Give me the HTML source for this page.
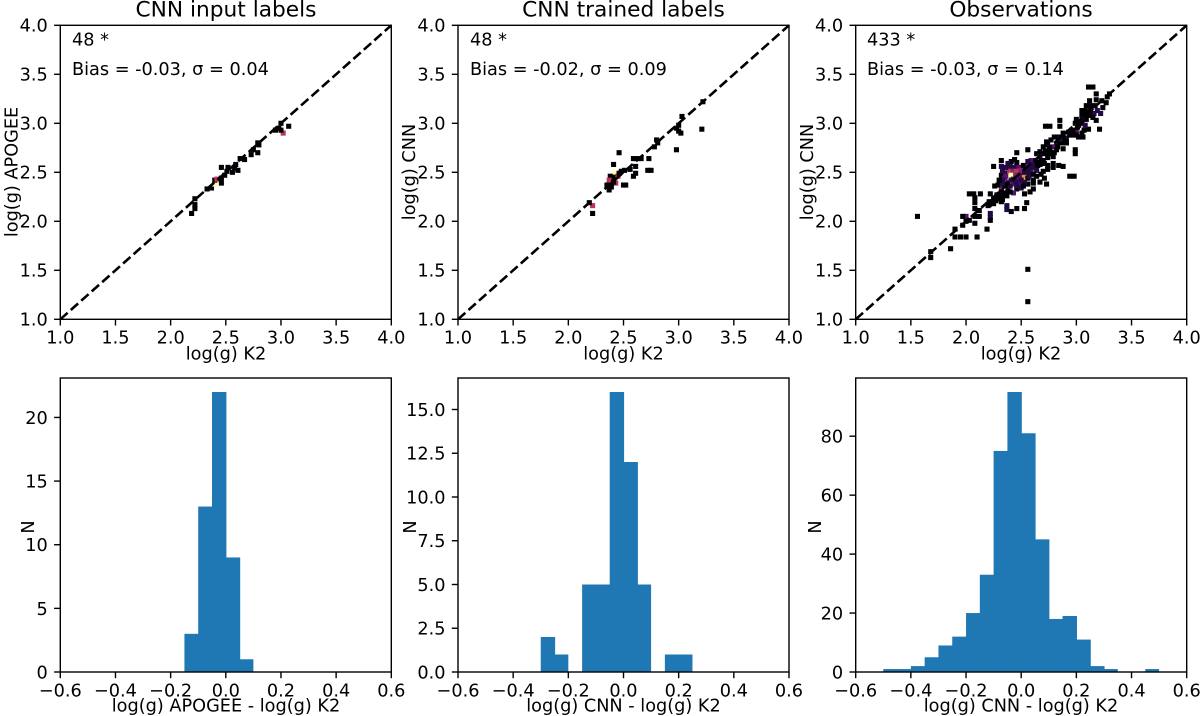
<!DOCTYPE html>
<html>
<head>
<meta charset="utf-8">
<title>log(g) comparison</title>
<style>
html,body{margin:0;padding:0;background:#fff;}
svg{display:block;}
text{font-family:"DejaVu Sans","Liberation Sans",sans-serif;font-size:17.7px;fill:#000;}
.title{font-size:21.7px;text-anchor:middle;}
.mid{text-anchor:middle;}
</style>
</head>
<body>
<svg id="chart" width="1200" height="716" viewBox="0 0 1200 716" xmlns="http://www.w3.org/2000/svg">
  <rect width="1200" height="716" fill="#fff"/>
  <g id="layer-marks"></g>
  <g id="layer-axes"></g>

  <text class="title" x="226" y="16.7">CNN input labels</text>
  <text class="title" x="623.5" y="16.7">CNN trained labels</text>
  <text class="title" x="1021" y="16.7">Observations</text>

  <text x="72" y="45.7">48 *</text>
  <text x="72" y="75">Bias = -0.03, σ = 0.04</text>
  <text x="470" y="45.7">48 *</text>
  <text x="470" y="75">Bias = -0.02, σ = 0.09</text>
  <text x="867" y="45.7">433 *</text>
  <text x="867" y="75">Bias = -0.03, σ = 0.14</text>

  <text class="mid" x="226" y="359.3">log(g) K2</text>
  <text class="mid" x="623.5" y="359.3">log(g) K2</text>
  <text class="mid" x="1021" y="359.3">log(g) K2</text>
  <text class="mid" x="226" y="711.7">log(g) APOGEE - log(g) K2</text>
  <text class="mid" x="623.5" y="711.7">log(g) CNN - log(g) K2</text>
  <text class="mid" x="1021" y="711.7">log(g) CNN - log(g) K2</text>

  <text class="mid" transform="translate(17.6 172) rotate(-90)">log(g) APOGEE</text>
  <text class="mid" transform="translate(415 172) rotate(-90)">log(g) CNN</text>
  <text class="mid" transform="translate(813 172) rotate(-90)">log(g) CNN</text>
  <text class="mid" transform="translate(34 527) rotate(-90)">N</text>
  <text class="mid" transform="translate(416 527) rotate(-90)">N</text>
  <text class="mid" transform="translate(821 527) rotate(-90)">N</text>
</svg>
<script>
// Tick values and labels
var scatterTicks = [1, 1.5, 2, 2.5, 3, 3.5, 4];
var scatterTickLabels = ["1.0", "1.5", "2.0", "2.5", "3.0", "3.5", "4.0"];
var histXTicks = [-0.6, -0.4, -0.2, 0, 0.2, 0.4, 0.6];
var histXTickLabels = ["\u22120.6", "\u22120.4", "\u22120.2", "0.0", "0.2", "0.4", "0.6"];
var histYTicksInput = [0, 5, 10, 15, 20];
var histYTickLabelsInput = ["0", "5", "10", "15", "20"];
var histYTicksTrained = [0, 2.5, 5, 7.5, 10, 12.5, 15];
var histYTickLabelsTrained = ["0.0", "2.5", "5.0", "7.5", "10.0", "12.5", "15.0"];
var histYTicksObs = [0, 20, 40, 60, 80];
var histYTickLabelsObs = ["0", "20", "40", "60", "80"];

// Histogram bins and counts
var histEdges = [-0.5, -0.45, -0.4, -0.35, -0.3, -0.25, -0.2, -0.15, -0.1, -0.05, 0, 0.05, 0.1, 0.15, 0.2, 0.25, 0.3, 0.35, 0.4, 0.45, 0.5];
var histInput = [0, 0, 0, 0, 0, 0, 0, 3, 13, 22, 9, 1, 0, 0, 0, 0, 0, 0, 0, 0];
var histTrained = [0, 0, 0, 0, 2, 1, 0, 5, 5, 16, 12, 5, 0, 1, 1, 0, 0, 0, 0, 0];
var histObs = [1, 1, 2, 5, 9, 12, 20, 33, 75, 95, 81, 45, 18, 19, 11, 2, 1, 0, 0, 1];

// 2D histogram cells: [log(g) K2, log(g) predicted, count]
var cellsInput = [
[2.19,2.08,1],[2.22,2.13,1],[2.22,2.17,1],[2.22,2.23,1],[2.33,2.33,1],[2.37,2.34,1],[2.40,2.38,3],[2.40,2.42,1],
[2.42,2.43,2],[2.46,2.39,1],[2.46,2.44,1],[2.49,2.47,1],[2.46,2.55,1],[2.52,2.55,1],[2.51,2.51,1],[2.56,2.50,1],
[2.58,2.54,1],[2.61,2.52,1],[2.59,2.58,1],[2.63,2.64,1],[2.67,2.63,1],[2.73,2.68,1],[2.75,2.73,1],[2.79,2.80,1],
[2.79,2.70,1],[2.80,2.78,1],[2.95,2.93,1],[2.98,2.95,1],[3.00,3.00,1],[3.02,2.90,2],[3.07,2.97,1],[3.00,2.93,1]
];
var cellsTrained = [
[2.22,2.08,1],[2.22,2.16,2],[2.19,2.19,1],[2.46,2.70,1],[2.41,2.58,1],[2.42,2.49,3],[2.38,2.46,1],[2.41,2.45,1],
[2.37,2.42,2],[2.43,2.39,2],[2.45,2.46,2],[2.41,2.40,1],[2.35,2.37,1],[2.39,2.35,1],[2.37,2.32,1],[2.50,2.37,1],
[2.52,2.37,1],[2.48,2.51,1],[2.51,2.52,1],[2.56,2.53,1],[2.46,2.49,1],[2.61,2.56,1],[2.61,2.49,1],[2.59,2.46,1],
[2.59,2.64,1],[2.62,2.64,1],[2.66,2.64,1],[2.73,2.64,1],[2.72,2.52,1],[2.75,2.52,1],[2.80,2.83,1],[2.81,2.80,1],
[2.78,2.76,1],[2.98,2.95,1],[3.03,3.07,1],[3.00,2.92,1],[2.98,2.73,1],[3.02,2.90,1],[3.21,2.94,1],[3.22,3.22,1],[3.00,2.98,1]
];
var cellsObs = [
[3.11,3.37,1],[3.15,3.37,1],[3.18,3.30,1],[3.30,3.30,1],[3.28,3.27,1],[3.18,3.24,1],[3.23,3.23,1],[3.12,3.23,1],
[3.27,3.21,1],[3.09,3.18,1],[3.13,3.18,1],[3.17,3.18,1],[3.24,3.16,1],[3.05,3.13,1],[3.08,3.13,1],[3.13,3.13,1],
[3.16,3.10,2],[3.19,3.13,2],[3.22,3.10,2],[3.05,3.08,1],[3.09,3.08,1],[3.12,3.08,1],[3.15,3.06,1],[3.00,3.04,1],
[3.18,3.03,1],[2.85,3.03,1],[3.05,3.04,2],[2.72,2.97,1],[2.76,2.97,1],[2.85,2.97,1],[2.99,3.00,1],[3.03,3.01,1],
[3.21,2.94,1],[3.11,2.94,1],[3.07,2.93,1],[3.00,2.93,3],[2.96,2.92,2],[2.93,2.91,1],[2.88,2.90,1],[3.05,2.90,1],
[3.00,2.88,1],[2.97,2.88,1],[3.06,2.86,1],[3.02,2.86,1],[2.80,2.86,1],[2.84,2.86,1],[2.91,2.85,2],[2.88,2.85,1],
[2.77,2.83,1],[2.73,2.81,1],[2.82,2.79,2],[2.85,2.81,1],[2.90,2.82,1],[2.70,2.76,1],[2.74,2.78,1],[2.79,2.76,3],
[2.76,2.73,1],[2.82,2.73,1],[2.99,2.73,1],[2.99,2.69,1],[2.56,2.73,1],[2.46,2.70,1],[2.67,2.71,1],[2.64,2.69,1],
[2.71,2.69,1],[2.79,2.66,1],[2.67,2.66,2],[2.74,2.65,1],[2.70,2.62,1],[2.59,2.62,3],[2.56,2.61,2],[2.63,2.62,2],
[2.44,2.63,1],[2.32,2.62,1],[2.41,2.61,1],[2.46,2.60,1],[2.38,2.59,2],[2.32,2.56,2],[2.25,2.56,1],[2.40,2.56,2],
[2.44,2.55,2],[2.48,2.55,3],[2.52,2.57,1],[2.56,2.56,3],[2.61,2.55,2],[2.65,2.57,1],[2.71,2.59,1],[2.74,2.57,1],
[2.79,2.59,1],[2.84,2.57,1],[2.88,2.56,1],[2.79,2.55,1],[2.74,2.53,1],[2.70,2.51,1],[2.64,2.52,2],[2.59,2.50,3],
[2.56,2.50,2],[2.52,2.52,2],[2.49,2.52,4],[2.45,2.51,5],[2.41,2.51,4],[2.38,2.51,5],[2.35,2.49,2],[2.32,2.47,1],
[2.41,2.47,9],[2.45,2.47,4],[2.49,2.47,3],[2.53,2.46,7],[2.39,2.44,9],[2.35,2.44,3],[2.43,2.43,3],[2.47,2.43,3],
[2.56,2.44,1],[2.61,2.42,1],[2.71,2.44,1],[2.67,2.40,1],[2.94,2.46,1],[2.98,2.46,1],[2.73,2.38,1],[2.56,2.38,1],
[2.61,2.39,1],[2.38,2.40,3],[2.43,2.38,4],[2.49,2.38,3],[2.32,2.34,4],[2.35,2.37,2],[2.29,2.37,1],[2.26,2.36,1],
[2.46,2.33,1],[2.38,2.33,1],[2.61,2.33,1],[2.58,2.30,1],[2.53,2.28,1],[2.43,2.29,3],[2.37,2.26,1],[2.32,2.30,1],
[2.28,2.27,1],[2.22,2.28,1],[2.03,2.28,1],[2.07,2.28,1],[2.13,2.28,1],[2.08,2.24,1],[2.29,2.23,1],[2.25,2.23,1],
[2.21,2.20,1],[2.32,2.20,1],[2.55,2.19,1],[2.20,2.16,1],[2.08,2.19,1],[2.37,2.16,2],[2.37,2.12,2],[2.41,2.10,1],
[2.46,2.13,1],[2.53,2.13,1],[2.08,2.13,1],[2.12,2.11,1],[2.22,2.08,2],[2.22,2.04,2],[2.22,2.01,1],[2.00,2.05,3],
[1.97,2.05,1],[2.08,2.05,1],[2.12,2.05,1],[2.03,2.01,1],[1.56,2.05,1],[2.00,2.00,1],[2.08,1.98,1],[1.97,1.96,1],
[1.90,1.92,1],[2.19,1.92,1],[1.90,1.84,1],[1.95,1.84,1],[2.00,1.84,1],[2.10,1.84,1],[1.86,1.72,1],[1.68,1.69,1],
[1.68,1.63,1],[2.56,1.51,1],[2.56,1.18,1],[2.21,2.17,1],[2.24,2.20,1],[2.27,2.21,1],[2.25,2.18,1],[2.29,2.26,1],
[2.33,2.26,1],[2.33,2.22,1],[2.36,2.29,1],[2.40,2.30,1],[2.37,2.38,1],[2.33,2.38,2],[2.41,2.42,2],[2.45,2.40,2],
[2.50,2.42,2],[2.53,2.40,2],[2.53,2.50,2],[2.57,2.46,2],[2.61,2.48,1],[2.64,2.46,1],[2.68,2.48,1],[2.64,2.60,1],
[2.68,2.62,1],[2.72,2.71,1],[2.75,2.69,1],[2.80,2.70,1],[2.83,2.76,1],[2.87,2.80,1],[2.91,2.80,1],[2.94,2.88,1],
[2.97,2.93,1],[3.01,2.96,1],[3.05,3.00,1],[3.09,3.04,1],[3.12,3.12,1],[3.02,2.98,1],[2.36,2.55,2],[2.33,2.51,2],
[2.36,2.46,3],[2.33,2.42,2],[2.30,2.42,1],[2.40,2.36,2],[2.46,2.36,2],[2.50,2.34,2],[2.52,2.36,1],[2.57,2.53,2],
[2.60,2.58,2],[2.67,2.58,1],[2.88,2.74,1],[2.77,2.70,1],[2.85,2.84,2],[3.08,2.98,2]
];

var NS = "http://www.w3.org/2000/svg";
var marks = document.getElementById("layer-marks");
var axes = document.getElementById("layer-axes");
var AX_W = 331, AX_H = 294;
var LEFTS = [60.3, 458, 855.7];
var TOP_ROW = 25.3, BOTTOM_ROW = 378;
var CELL_W = 0.046, CELL_H = 0.052;
var TICK_LEN = 6.2;
var INFERNO = ["#000004", "#160b39", "#420a68", "#6a176e", "#932667", "#bc3754", "#dd513a", "#f37819", "#fca50a", "#f6d746", "#fcffa4"];

function hexRgb(h) {
  return [parseInt(h.substr(1, 2), 16), parseInt(h.substr(3, 2), 16), parseInt(h.substr(5, 2), 16)];
}
function inferno(t) {
  var p = Math.max(0, Math.min(1, t)) * 10;
  var i = Math.min(9, Math.floor(p));
  var f = p - i;
  var a = hexRgb(INFERNO[i]);
  var b = hexRgb(INFERNO[i + 1]);
  return "rgb(" + Math.round(a[0] + (b[0] - a[0]) * f) + "," + Math.round(a[1] + (b[1] - a[1]) * f) + "," + Math.round(a[2] + (b[2] - a[2]) * f) + ")";
}
function linear(d0, d1, r0, r1) {
  return function (v) { return r0 + (v - d0) / (d1 - d0) * (r1 - r0); };
}
function svgEl(tag, attrs, parent) {
  var e = document.createElementNS(NS, tag);
  for (var k in attrs) e.setAttribute(k, attrs[k]);
  parent.appendChild(e);
  return e;
}

function drawFrame(left, top) {
  var f = svgEl("rect", { x: left, y: top, width: AX_W, height: AX_H, fill: "none", stroke: "#000", "stroke-width": 1.4 }, axes);
  
  
}
function drawXTicks(ticks, labels, xs, bottom) {
  ticks.forEach(function (t, i) {
    var l = svgEl("line", { x1: xs(t), x2: xs(t), y1: bottom, y2: bottom + TICK_LEN, stroke: "#000", "stroke-width": 1.4 }, axes);
    
    
    var tx = svgEl("text", { x: xs(t), y: bottom + 24.3, "text-anchor": "middle" }, axes);
    tx.textContent = labels[i];
    
    
  });
}
function drawYTicks(ticks, labels, ys, left) {
  ticks.forEach(function (t, i) {
    var l = svgEl("line", { x1: left - TICK_LEN, x2: left, y1: ys(t), y2: ys(t), stroke: "#000", "stroke-width": 1.4 }, axes);
    
    
    var tx = svgEl("text", { x: left - 12.5, y: ys(t) + 6.4, "text-anchor": "end" }, axes);
    tx.textContent = labels[i];
    
    
  });
}

function drawScatter(col, cells) {
  var left = LEFTS[col];
  var xs = linear(1, 4, left, left + AX_W);
  var ys = linear(1, 4, TOP_ROW + AX_H, TOP_ROW);
  var maxN = 1;
  cells.forEach(function (c) { if (c[2] > maxN) maxN = c[2]; });
  var w = xs(1 + CELL_W) - xs(1);
  var h = ys(1) - ys(1 + CELL_H);
  cells.forEach(function (c) {
    var r = svgEl("rect", { x: xs(c[0]) - w / 2, y: ys(c[1]) - h / 2, width: w, height: h, fill: inferno((c[2] - 1) / (maxN - 1)) }, marks);
    
    
  });
  var d = svgEl("line", { x1: xs(1), y1: ys(1), x2: xs(4), y2: ys(4), stroke: "#000", "stroke-width": 2.6, "stroke-dasharray": "9.8 4.2" }, marks);
  
  
  drawFrame(left, TOP_ROW);
  drawXTicks(scatterTicks, scatterTickLabels, xs, TOP_ROW + AX_H);
  drawYTicks(scatterTicks, scatterTickLabels, ys, left);
}

function drawHist(col, counts, yTicks, yLabels) {
  var left = LEFTS[col];
  var maxN = Math.max.apply(null, counts);
  var xs = linear(-0.6, 0.6, left, left + AX_W);
  var ys = linear(0, maxN * 1.05, BOTTOM_ROW + AX_H, BOTTOM_ROW);
  counts.forEach(function (n, i) {
    if (!n) return;
    var x0 = xs(histEdges[i]);
    var x1 = xs(histEdges[i + 1]);
    var b = svgEl("rect", { x: x0, y: ys(n), width: x1 - x0 + (counts[i + 1] ? 0.6 : 0), height: ys(0) - ys(n), fill: "#1f77b4" }, marks);
    
    
  });
  drawFrame(left, BOTTOM_ROW);
  drawXTicks(histXTicks, histXTickLabels, xs, BOTTOM_ROW + AX_H);
  drawYTicks(yTicks, yLabels, ys, left);
}

drawScatter(0, cellsInput);
drawScatter(1, cellsTrained);
drawScatter(2, cellsObs);
drawHist(0, histInput, histYTicksInput, histYTickLabelsInput);
drawHist(1, histTrained, histYTicksTrained, histYTickLabelsTrained);
drawHist(2, histObs, histYTicksObs, histYTickLabelsObs);
</script>
</body>
</html>
